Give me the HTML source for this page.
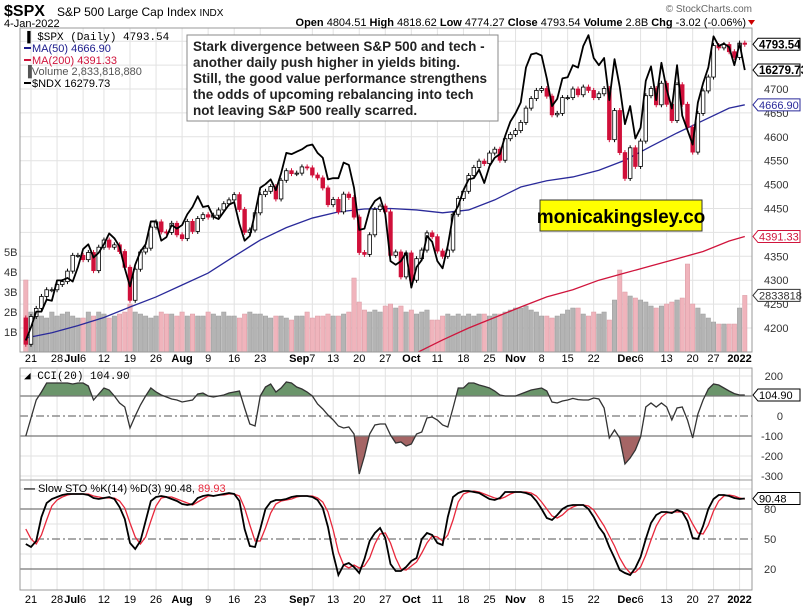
<!DOCTYPE html>
<html><head><meta charset="utf-8">
<style>
html,body{margin:0;padding:0;background:#fff;}
svg{display:block;font-family:"Liberation Sans",Arial,sans-serif;}
</style></head>
<body>
<svg id="chart" width="803" height="611" viewBox="0 0 803 611" xmlns="http://www.w3.org/2000/svg">
  <defs>
    <clipPath id="clipMain"><rect x="20" y="28" width="732" height="324"/></clipPath>
    <clipPath id="clipCciUp"><rect x="20" y="368" width="732" height="28"/></clipPath>
    <clipPath id="clipCciDn"><rect x="20" y="436" width="732" height="44"/></clipPath>
  </defs>
  <g id="grid"></g>
  <g id="vol" clip-path="url(#clipMain)"></g>
  <g id="mas" clip-path="url(#clipMain)"></g>
  <g id="candles" clip-path="url(#clipMain)"></g>
  <g id="ndx" clip-path="url(#clipMain)"></g>
  <g id="cci"></g>
  <g id="sto"></g>
  <g id="frames"></g>
  <g id="labels"></g>

  <text x="4" y="16" font-size="16" font-weight="bold">$SPX</text>
  <text x="57" y="16" font-size="12">S&amp;P 500 Large Cap Index <tspan font-size="10">INDX</tspan></text>
  <text x="4" y="27" font-size="11">4-Jan-2022</text>
  <text x="752" y="12" font-size="10" fill="#666" text-anchor="end">© StockCharts.com</text>
  <text x="746" y="26" font-size="11" text-anchor="end"><tspan font-weight="bold">Open</tspan> 4804.51 <tspan font-weight="bold">High</tspan> 4818.62 <tspan font-weight="bold">Low</tspan> 4774.27 <tspan font-weight="bold">Close</tspan> 4793.54 <tspan font-weight="bold">Volume</tspan> 2.8B <tspan font-weight="bold">Chg</tspan> -3.02 (-0.06%)</text>
  <path d="M748 20 l7 0 l-3.5 5 z" fill="#c00"/>

  <g font-size="11">
    <text x="24" y="40" font-family="Liberation Mono,monospace">&#x2590; $SPX (Daily) 4793.54</text>
    <line x1="24" y1="48" x2="31" y2="48" stroke="#1a1a8c" stroke-width="2"/>
    <text x="32" y="52" fill="#1a1a8c">MA(50) 4666.90</text>
    <line x1="24" y1="60" x2="31" y2="60" stroke="#d0143c" stroke-width="2"/>
    <text x="32" y="64" fill="#d0143c">MA(200) 4391.33</text>
    <text x="24" y="75" fill="#555">&#x2590;Volume 2,833,818,880</text>
    <line x1="24" y1="83" x2="31" y2="83" stroke="#000" stroke-width="2"/>
    <text x="32" y="87">$NDX 16279.73</text>
  </g>

  <g>
    <rect x="187" y="35" width="311" height="86" fill="#fff" stroke="#888"/>
    <g font-size="13.5" font-weight="bold" fill="#222">
      <text x="193" y="51">Stark divergence between S&amp;P 500 and tech -</text>
      <text x="193" y="67">another daily push higher in yields biting.</text>
      <text x="193" y="83">Still, the good value performance strengthens</text>
      <text x="193" y="99">the odds of upcoming rebalancing into tech</text>
      <text x="193" y="115">not leaving S&amp;P 500 really scarred.</text>
    </g>
  </g>
  <g>
    <rect x="540" y="200" width="162" height="31" fill="#ffff00" stroke="#333"/>
    <text x="621" y="223" font-size="19" font-weight="bold" text-anchor="middle">monicakingsley.co</text>
  </g>
</svg>
<script>
// ---- data ----
const closes = [4166,4224,4241,4266,4280,4280,4291,4297,4319,4352,4352,4343,4358,4320,4369,4384,4369,4374,4360,4327,4258,4323,4359,4367,4411,4422,4401,4400,4419,4395,4387,4423,4402,4429,4437,4432,4436,4447,4460,4468,4479,4448,4400,4405,4441,4479,4486,4496,4470,4509,4529,4523,4524,4537,4535,4520,4514,4493,4458,4469,4443,4480,4473,4432,4358,4354,4395,4448,4455,4443,4352,4359,4307,4357,4300,4345,4363,4399,4391,4361,4350,4363,4438,4471,4486,4519,4536,4549,4544,4566,4574,4551,4596,4605,4613,4630,4660,4680,4697,4701,4685,4646,4649,4682,4682,4700,4688,4704,4697,4682,4690,4701,4594,4655,4567,4513,4577,4538,4591,4686,4701,4667,4712,4668,4634,4709,4668,4620,4568,4649,4696,4725,4791,4786,4793,4778,4766,4796,4793.54];
const ndx = [14030,14140,14270,14270,14370,14360,14530,14530,14550,14520,14640,14790,14830,14720,14760,14830,14920,14880,14810,14630,14480,14660,14770,14830,15020,15020,14860,14890,14990,14960,14990,15080,15140,15230,15140,15150,15060,15040,15100,15160,15180,15000,14860,14900,15090,15300,15330,15370,15280,15420,15590,15580,15600,15620,15650,15660,15590,15550,15370,15380,15380,15510,15490,15300,14950,14960,15120,15190,15220,15080,14690,14660,14690,14760,14470,14640,14700,14900,14850,14690,14630,14820,15070,15150,15280,15370,15380,15450,15340,15480,15550,15580,15730,15850,15920,16010,16300,16410,16420,16400,16210,15980,16040,16210,16220,16320,16300,16480,16570,16380,16320,16380,16030,16370,16140,15830,15980,15710,15800,16190,16310,16030,16340,16120,15960,16320,15900,15780,15660,16010,16170,16300,16560,16480,16500,16470,16320,16500,16279.73];
const volumesB = [3.6,2.0,1.9,1.8,1.7,2.0,1.8,1.9,2.0,1.8,1.7,1.7,2.0,1.8,2.0,1.9,1.7,1.8,1.9,2.0,2.4,2.0,1.9,1.8,1.7,1.8,2.0,1.9,1.9,1.8,2.0,1.8,1.9,1.8,1.8,2.0,1.9,1.8,2.0,1.8,1.8,1.7,1.9,2.0,1.9,1.9,1.8,1.7,1.8,1.8,1.7,1.6,1.8,1.8,2.0,1.7,1.8,1.8,1.9,1.8,1.8,1.9,2.0,3.7,2.5,2.1,2.0,2.1,2.0,2.3,2.4,2.2,2.3,2.0,2.1,1.9,2.0,2.1,1.6,1.6,1.8,1.9,1.8,1.9,1.8,1.9,1.8,1.9,1.9,1.8,1.9,1.9,2.0,2.1,2.2,2.2,2.3,2.1,2.0,1.8,1.8,1.7,1.8,1.9,2.1,2.2,2.2,1.9,1.8,2.0,1.9,2.0,1.6,2.6,4.1,3.0,2.8,2.7,2.6,2.5,2.3,2.2,2.3,2.4,2.5,2.6,2.7,4.4,2.4,2.2,1.9,1.7,1.5,1.4,1.4,1.4,1.4,2.2,2.83];
const ma50Step = 5;
const ma50 = [4179,4190,4205,4222,4244,4265,4290,4315,4350,4384,4410,4430,4443,4449,4450,4447,4441,4447,4468,4495,4508,4516,4530,4551,4580,4608,4634,4660];
const ma50Last = 4666.90;
const ma200Start = 75;
const ma200 = [4148,4175,4200,4222,4244,4265,4280,4300,4315,4330,4345,4360,4382];
const ma200Last = 4391.33;
const cci = [-100,-10,80,120,165,165,165,165,165,160,165,165,150,80,110,140,130,100,65,45,-60,0,55,100,140,120,105,95,85,80,70,75,80,110,115,100,95,100,105,115,120,125,40,-40,-50,100,145,160,120,140,170,165,145,135,120,100,60,35,5,-20,-50,-60,-55,-90,-290,-200,-90,-45,-40,-40,-95,-135,-130,-150,-140,-90,-80,-10,-5,-20,-45,-55,40,140,140,165,165,155,148,140,125,105,100,100,100,110,120,130,135,140,125,70,65,75,80,88,82,80,80,90,85,40,-110,-70,-110,-240,-210,-170,-105,45,65,45,65,45,-20,40,45,-20,-110,10,80,135,160,155,140,125,112,105,104.9];
const stoK = [45,42,48,72,86,90,92,94,95,95,95,95,94,91,90,91,92,90,82,70,46,40,48,68,88,92,93,92,90,88,85,84,85,91,93,94,93,94,95,96,95,88,60,43,42,60,80,87,89,89,90,92,93,93,93,92,89,81,62,35,14,24,26,22,16,30,48,56,61,51,25,18,18,22,28,31,50,56,54,46,44,72,92,96,98,98,97,96,93,90,89,91,97,97,97,97,96,94,88,80,71,69,74,80,83,84,84,84,80,72,62,55,42,31,19,16,14,21,32,50,66,74,77,77,76,79,77,68,51,50,63,80,90,94,94,93,91,90,90.48];
const stoD = [60,50,45,54,69,83,89,92,94,95,95,95,95,93,92,91,91,91,88,81,66,52,45,52,68,83,91,92,92,90,88,86,84,87,90,93,93,94,94,95,95,93,81,64,48,48,61,76,85,88,89,90,92,93,93,93,91,87,77,59,37,24,21,24,21,23,31,45,55,56,46,31,20,19,23,27,36,46,53,52,48,54,69,87,95,97,98,97,95,93,91,90,92,95,97,97,97,96,93,87,80,73,71,74,79,82,84,84,83,79,71,63,53,43,31,22,16,17,22,34,49,63,72,76,77,77,77,75,65,56,55,64,78,88,93,94,93,91,89.93];
const priceTicks = [4200,4250,4300,4350,4450,4500,4550,4600,4650,4700];
const volTicks = [1,2,3,4,5];
const cciTicks = [200,0,-100,-200,-300];
const stoTicks = [80,50,20];
const dateLabels = [[1,"21",""],[6,"28",""],[11,"6","Jul"],[15,"12",""],[20,"19",""],[25,"26",""],[30,"","Aug"],[35,"9",""],[40,"16",""],[45,"23",""],[55,"7","Sep"],[59,"13",""],[64,"20",""],[69,"27",""],[74,"","Oct"],[79,"11",""],[84,"18",""],[89,"25",""],[94,"","Nov"],[99,"8",""],[104,"15",""],[109,"22",""],[118,"6","Dec"],[123,"13",""],[128,"20",""],[132,"27",""],[137,"","2022"]];

// ---- scales ----
const NS="http://www.w3.org/2000/svg";
const xi = i => 25.8 + 5.21*i;
const yP = p => 328 - (p-4200)*0.478;
const yN = n => 70 + (16280-n)*0.1202;
const yV = v => 352 - v*20;
const yC = c => 416 - c*0.2;
const yS = s => 589 - s;
function mk(tag, attrs, parent){const e=document.createElementNS(NS,tag);for(const k in attrs)e.setAttribute(k,attrs[k]);document.getElementById(parent).appendChild(e);return e;}
const L=20,R=752;

// grid
for(const d of dateLabels){const x=xi(d[0]);
  for(const [a,b] of [[28,352],[368,480],[480,590]]){const g=mk('line',{x1:x,x2:x,y1:a,y2:b,stroke:'#e2e2e2'},'grid');
    
    }}
for(const t of priceTicks.concat([4400,4750,4800])){const g=mk('line',{x1:L,x2:R,y1:yP(t),y2:yP(t),stroke:'#e2e2e2'},'grid');
  
  }
for(const t of [200,-200,-300]){const g=mk('line',{x1:L,x2:R,y1:yC(t),y2:yC(t),stroke:'#e2e2e2'},'grid');
  
  }
for(const t of [100,65,35]){const g=mk('line',{x1:L,x2:R,y1:yS(t),y2:yS(t),stroke:'#e2e2e2'},'grid');
  
  }

// volume
volumesB.forEach((v,i)=>{const up = i===0 ? false : closes[i]>=closes[i-1];
  const r=mk('rect',{x:xi(i)-2.2,y:yV(v),width:4.4,height:352-yV(v),fill:up?'#b4b4b4':'#f0b4bc',stroke:up?'#999':'#d99aa3','stroke-width':0.5},'vol');
  
  });

// MAs
let d50='';ma50.forEach((v,k)=>{d50+=(k?'L':'M')+xi(k*ma50Step)+' '+yP(v)+' ';});d50+='L'+xi(closes.length-1)+' '+yP(ma50Last);
const m50=mk('path',{d:d50,fill:'none',stroke:'#2a2a9a','stroke-width':1.3},'mas');


let d200='';ma200.forEach((v,k)=>{d200+=(k?'L':'M')+xi(ma200Start+k*5)+' '+yP(v)+' ';});d200+='L'+xi(closes.length-1)+' '+yP(ma200Last);
const m200=mk('path',{d:d200,fill:'none',stroke:'#d0143c','stroke-width':1.3},'mas');



// candles
closes.forEach((c,i)=>{const o = i===0 ? 4221 : closes[i-1];const up=c>=o;
  const top=yP(Math.max(o,c)),bot=yP(Math.min(o,c));
  const w=mk('line',{x1:xi(i),x2:xi(i),y1:top-2.5,y2:bot+2.5,stroke:up?'#000':'#d0103a','stroke-width':1},'candles');
  
  
  const b=mk('rect',{x:xi(i)-1.8,y:top,width:3.6,height:Math.max(1,bot-top),fill:up?'#fff':'#d0103a',stroke:up?'#000':'#d0103a','stroke-width':0.8},'candles');
  
  });

// NDX
const nd=ndx.map((v,i)=>(i?'L':'M')+xi(i)+' '+yN(v)).join(' ');
const np=mk('path',{d:nd,fill:'none',stroke:'#000','stroke-width':1.8,'stroke-linejoin':'round'},'ndx');



// CCI
const cl=cci.map((v,i)=>(i?'L':'M')+xi(i)+' '+yC(v)).join(' ');
const last=xi(cci.length-1);
const fu=mk('path',{d:cl+' L'+last+' '+yC(100)+' L'+xi(0)+' '+yC(100)+' Z',fill:'#6b956b','clip-path':'url(#clipCciUp)'},'cci');


const fd=mk('path',{d:cl+' L'+last+' '+yC(-100)+' L'+xi(0)+' '+yC(-100)+' Z',fill:'#a56565','clip-path':'url(#clipCciDn)'},'cci');


for(const [v,dash] of [[100,''],[0,'8 3 2 3'],[-100,'']]){const l=mk('line',{x1:L,x2:R,y1:yC(v),y2:yC(v),stroke:'#777','stroke-width':1.2,'stroke-dasharray':dash},'cci');
  
  }
const cp=mk('path',{d:cl,fill:'none',stroke:'#333','stroke-width':1.3},'cci');



// STO
for(const [v,dash] of [[80,''],[50,'8 3 2 3'],[20,'']]){const l=mk('line',{x1:L,x2:R,y1:yS(v),y2:yS(v),stroke:'#777','stroke-width':1.2,'stroke-dasharray':dash},'sto');
  
  }
const sd=mk('path',{d:stoD.map((v,i)=>(i?'L':'M')+xi(i)+' '+yS(v)).join(' '),fill:'none',stroke:'#e8283c','stroke-width':1.3},'sto');


const sk=mk('path',{d:stoK.map((v,i)=>(i?'L':'M')+xi(i)+' '+yS(v)).join(' '),fill:'none',stroke:'#000','stroke-width':1.8},'sto');



// frames
for(const [a,b] of [[28,352],[368,480],[480,590]]){const f=mk('rect',{x:L,y:a,width:R-L,height:b-a,fill:'none',stroke:'#999'},'frames');
  
  }

// labels
function txt(x,y,s,attrs,name){const t=mk('text',Object.assign({x:x,y:y,'font-size':11},attrs||{}),'labels');t.textContent=s;
  
  return t;}
priceTicks.forEach(t=>txt(764,yP(t)+4,String(t),{fill:'#333'},'price-tick-label'));
volTicks.forEach(t=>txt(4,yV(t)+4,t+'B',{fill:'#333'},'volume-tick-label'));
cciTicks.forEach(t=>txt(783,yC(t)+4,String(t),{fill:'#333','text-anchor':'end'},'cci-tick-label'));
stoTicks.forEach(t=>txt(764,yS(t)+4,String(t),{fill:'#333'},'sto-tick-label'));
for(const yy of [362,603]){dateLabels.forEach(d=>{const x=xi(d[0]);
  if(d[1]&&d[2]){txt(x-3,yy,d[2],{'font-weight':'bold','text-anchor':'end'},'date-month-label');txt(x,yy,d[1],{'text-anchor':'middle'},'date-day-label');}
  else if(d[2]){txt(x,yy,d[2],{'font-weight':'bold','text-anchor':'middle'},'date-month-label');}
  else txt(x,yy,d[1],{'text-anchor':'middle'},'date-day-label');});}
// value tags
function tag(y,s,col,bold,name){const g=mk('path',{d:`M753 ${y} l5 -6 h42 v12 h-42 z`,fill:'#fff',stroke:col},'labels');
  
  
  txt(759,y+4,s,{fill:col,'font-weight':bold?'bold':'normal','font-size':bold?11.5:11},name);}
tag(yP(closes[closes.length-1]),'4793.54','#000',true,'spx-last-tag');
tag(yN(ndx[ndx.length-1]),'16279.73','#000',true,'ndx-last-tag');
tag(yP(ma50Last),'4666.90','#2a2a9a',false,'ma50-last-tag');
tag(yP(ma200Last),'4391.33','#d0143c',false,'ma200-last-tag');
tag(yV(volumesB[volumesB.length-1]),'2833818','#333',false,'volume-last-tag');
tag(yC(cci[cci.length-1]),'104.90','#000',false,'cci-last-tag');
tag(yS(stoK[stoK.length-1]),'90.48','#000',false,'sto-last-tag');
// panel legends
txt(24,379,'◢ CCI(20) 104.90',{'font-family':'Liberation Mono,monospace','font-size':11},'cci-legend');
const sl=txt(24,492,'',{'font-size':11},'sto-legend');
sl.innerHTML='<tspan font-weight="bold">—</tspan> Slow STO %K(14) %D(3) 90.48, <tspan fill="#e8283c">89.93</tspan>';
</script>
</body></html>
